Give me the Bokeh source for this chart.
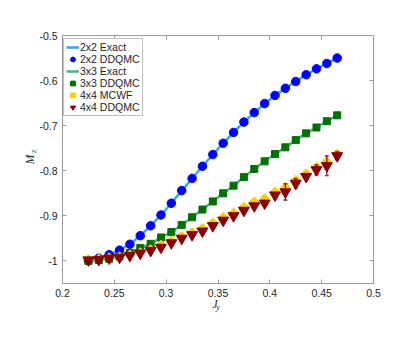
import numpy as np
from bokeh.plotting import figure
from bokeh.models import (ColumnDataSource, Range1d, LinearAxis, Legend, LegendItem,
                          Whisker, FixedTicker, TeeHead, CustomJSTickFormatter)
from bokeh.embed import file_html
from bokeh.resources import INLINE

# ---------------- data ----------------
jy = [0.225, 0.235, 0.245, 0.255, 0.265, 0.275, 0.285, 0.295, 0.305, 0.315,
      0.325, 0.335, 0.345, 0.355, 0.365, 0.375, 0.385, 0.395, 0.405, 0.415,
      0.425, 0.435, 0.445, 0.455, 0.465]

exact_2x2 = [-0.999, -0.994, -0.986, -0.976, -0.963, -0.944, -0.922, -0.898, -0.872, -0.844,
             -0.817, -0.790, -0.764, -0.739, -0.715, -0.692, -0.671, -0.651, -0.633, -0.617,
             -0.602, -0.587, -0.574, -0.562, -0.550]
ddqmc_2x2 = [-0.999, -0.994, -0.986, -0.976, -0.963, -0.944, -0.922, -0.898, -0.872, -0.844,
             -0.817, -0.790, -0.764, -0.739, -0.715, -0.692, -0.671, -0.651, -0.633, -0.617,
             -0.602, -0.587, -0.574, -0.562, -0.550]

exact_3x3 = [-1.000, -0.998, -0.995, -0.990, -0.982, -0.971, -0.962, -0.948, -0.936, -0.920,
             -0.903, -0.886, -0.868, -0.850, -0.833, -0.814, -0.796, -0.779, -0.763, -0.748,
             -0.732, -0.717, -0.704, -0.690, -0.677]
ddqmc_3x3 = [-1.000, -0.998, -0.995, -0.990, -0.982, -0.971, -0.962, -0.948, -0.936, -0.920,
             -0.903, -0.886, -0.868, -0.850, -0.833, -0.814, -0.796, -0.779, -0.763, -0.748,
             -0.732, -0.717, -0.704, -0.690, -0.677]

mcwf_4x4 = [-0.996, -0.995, -0.992, -0.990, -0.986, -0.981, -0.974, -0.964, -0.955, -0.945,
            -0.936, -0.927, -0.915, -0.903, -0.893, -0.880, -0.868, -0.861, -0.846, -0.836,
            -0.820, -0.806, -0.791, -0.779, -0.762]

ddqmc_4x4 = [-0.998, -0.997, -0.994, -0.992, -0.988, -0.983, -0.977, -0.970, -0.960, -0.950,
             -0.942, -0.934, -0.922, -0.910, -0.900, -0.888, -0.878, -0.872, -0.854, -0.847,
             -0.828, -0.813, -0.798, -0.789, -0.767]
err_4x4 = [0.002, 0.002, 0.002, 0.002, 0.003, 0.003, 0.003, 0.003, 0.003, 0.003,
           0.003, 0.003, 0.004, 0.004, 0.004, 0.004, 0.004, 0.005, 0.005, 0.018,
           0.010, 0.006, 0.011, 0.022, 0.009]

x_ticks = [0.2, 0.25, 0.3, 0.35, 0.4, 0.45, 0.5]
x_tick_labels = ["0.2", "0.25", "0.3", "0.35", "0.4", "0.45", "0.5"]
y_ticks = [-1.0, -0.9, -0.8, -0.7, -0.6, -0.5]
y_tick_labels = ["-1", "-0.9", "-0.8", "-0.7", "-0.6", "-0.5"]

legend_labels = ["2x2 Exact", "2x2 DDQMC", "3x3 Exact", "3x3 DDQMC", "4x4 MCWF", "4x4 DDQMC"]
x_title, x_sub = "J", "y"
y_title, y_sub = "M", "z"

# ---------------- figure ----------------
AX = "#9a9a9a"
TXT = "#262626"
FONT = "Liberation Sans"
SERIF = "Liberation Serif"

p = figure(width=407, height=346, output_backend="svg", toolbar_location=None,
           x_range=Range1d(0.2, 0.5), y_range=Range1d(-1.05, -0.5),
           min_border_left=62, min_border_right=34, min_border_top=35, min_border_bottom=63,
           x_axis_location=None, y_axis_location=None)
p.xgrid.visible = False
p.ygrid.visible = False
p.outline_line_color = None
p.background_fill_color = "white"
p.border_fill_color = "white"


def style_axis(ax, labels):
    ax.axis_line_color = AX
    ax.axis_line_width = 1
    ax.major_tick_line_color = AX
    ax.major_tick_in = 4
    ax.major_tick_out = 0
    ax.minor_tick_line_color = None
    ax.major_label_text_font = FONT
    ax.major_label_text_font_size = "10.5px"
    ax.major_label_text_color = TXT
    ax.major_label_standoff = 5
    if not labels:
        ax.formatter = CustomJSTickFormatter(code="return ''")


def title_axis(ax, size, standoff):
    # an axis without line/ticks/labels that only carries a (sub)title
    ax.axis_line_color = None
    ax.major_tick_line_color = None
    ax.minor_tick_line_color = None
    ax.major_tick_in = 0
    ax.major_tick_out = 0
    ax.major_label_standoff = 0
    ax.axis_label_text_font = SERIF
    ax.axis_label_text_font_style = "italic"
    ax.axis_label_text_font_size = size
    ax.axis_label_text_color = TXT
    ax.axis_label_standoff = standoff


xb = LinearAxis(ticker=FixedTicker(ticks=x_ticks),
                major_label_overrides=dict(zip(x_ticks, x_tick_labels)))
yl = LinearAxis(ticker=FixedTicker(ticks=y_ticks),
                major_label_overrides=dict(zip(y_ticks, y_tick_labels)))
xt = LinearAxis(ticker=FixedTicker(ticks=x_ticks))
yr = LinearAxis(ticker=FixedTicker(ticks=y_ticks))
style_axis(xb, True)
style_axis(yl, True)
style_axis(xt, False)
style_axis(yr, False)

# axis titles with subscripts
xb.axis_label = x_title + "\u00a0\u00a0"
xb.axis_label_text_font = SERIF
xb.axis_label_text_font_style = "italic"
xb.axis_label_text_font_size = "11.5px"
xb.axis_label_text_color = TXT
xb.axis_label_standoff = -2

yl.axis_label = "\u2003\u2003" + y_sub
yl.axis_label_text_font = SERIF
yl.axis_label_text_font_style = "italic"
yl.axis_label_text_font_size = "8px"
yl.axis_label_text_color = TXT
yl.axis_label_standoff = -2

xb2 = LinearAxis(ticker=FixedTicker(ticks=[]), axis_label=x_sub)
title_axis(xb2, "8px", -10)
yl2 = LinearAxis(ticker=FixedTicker(ticks=[]), axis_label=y_title)
title_axis(yl2, "11.5px", -9)

p.add_layout(xb, "below")
p.add_layout(xb2, "below")
p.add_layout(yl, "left")
p.add_layout(yl2, "left")
p.add_layout(xt, "above")
p.add_layout(yr, "right")

# ---------------- glyphs ----------------
src2 = ColumnDataSource(dict(x=jy, ex=exact_2x2, dd=ddqmc_2x2))
src3 = ColumnDataSource(dict(x=jy, ex=exact_3x3, dd=ddqmc_3x3))
src4 = ColumnDataSource(dict(x=jy, mc=mcwf_4x4, dd=ddqmc_4x4,
                             lo=[v - e for v, e in zip(ddqmc_4x4, err_4x4)],
                             hi=[v + e for v, e in zip(ddqmc_4x4, err_4x4)]))

BLUE_L = "#35a2ff"
BLUE_M = "#0000ff"
GREEN_L = "#42b877"
GREEN_M = "#007000"
YEL = "#ffcc00"
RED = "#8b0000"

r_l2 = p.line("x", "ex", source=src2, line_color=BLUE_L, line_width=2.5)
r_e2 = p.scatter("x", "dd", source=src2, marker="dash", angle=np.pi / 2, size=6,
                 line_color=BLUE_M, line_width=1.2)
r_m2 = p.scatter("x", "dd", source=src2, marker="circle", size=8.5,
                 fill_color=BLUE_M, line_color=BLUE_M)

r_l3 = p.line("x", "ex", source=src3, line_color=GREEN_L, line_width=2.5)
r_e3 = p.scatter("x", "dd", source=src3, marker="dash", angle=np.pi / 2, size=6,
                 line_color=GREEN_M, line_width=1.2)
r_m3 = p.scatter("x", "dd", source=src3, marker="square", size=7,
                 fill_color=GREEN_M, line_color=GREEN_M)

r_mc = p.scatter("x", "mc", source=src4, marker="square", angle=np.pi / 4, size=6.5,
                 fill_color=YEL, line_color=YEL)

r_e4 = p.scatter("x", "dd", source=src4, marker="dash", angle=np.pi / 2, size=5,
                 line_color=RED, line_width=1.2)
wh = Whisker(base="x", lower="lo", upper="hi", source=src4, dimension="height",
             line_color=RED, line_width=1.2, level="glyph",
             upper_head=TeeHead(size=4, line_color=RED, line_width=1.2),
             lower_head=TeeHead(size=4, line_color=RED, line_width=1.2))
p.add_layout(wh)
r_m4 = p.scatter("x", "dd", source=src4, marker="inverted_triangle", size=11,
                 fill_color=RED, line_color=RED)

# ---------------- legend ----------------
legend = Legend(items=[
    LegendItem(label=legend_labels[0], renderers=[r_l2]),
    LegendItem(label=legend_labels[1], renderers=[r_e2, r_m2]),
    LegendItem(label=legend_labels[2], renderers=[r_l3]),
    LegendItem(label=legend_labels[3], renderers=[r_e3, r_m3]),
    LegendItem(label=legend_labels[4], renderers=[r_mc]),
    LegendItem(label=legend_labels[5], renderers=[r_e4, r_m4]),
], location=(1, 167))
legend.label_text_font = FONT
legend.label_text_font_size = "10.5px"
legend.label_text_color = TXT
legend.glyph_width = 13
legend.glyph_height = 12
legend.label_height = 12
legend.label_standoff = 1
legend.spacing = 0
legend.padding = 2
legend.margin = 0
legend.border_line_color = "#808080"
legend.border_line_width = 1
legend.background_fill_color = "white"
legend.background_fill_alpha = 1
p.add_layout(legend, "center")

open("out.html", "w").write(file_html(p, INLINE))
